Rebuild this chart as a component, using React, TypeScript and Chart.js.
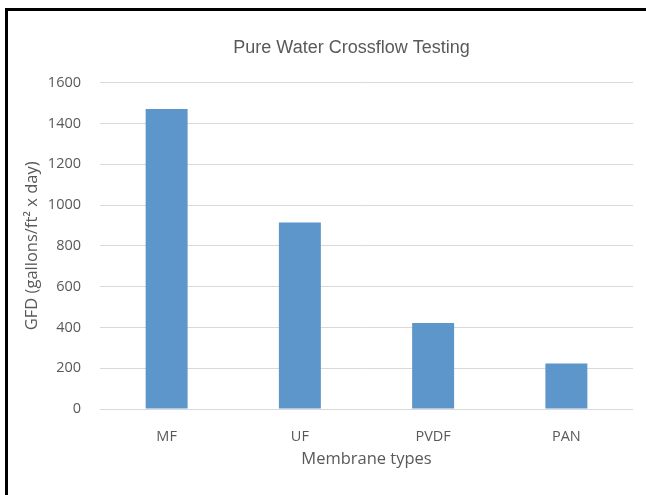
import React, { useEffect, useRef } from "react";
import { Chart, registerables } from "chart.js";

Chart.register(...registerables);

const categories = ["MF", "UF", "PVDF", "PAN"];
const gfdValues = [1470, 914, 421, 223];
const yMin = 0;
const yMax = 1600;
const yStep = 200;

const chartTitle = "Pure Water Crossflow Testing";
const xTitle = "Membrane types";
const yTitle = "GFD (gallons/ft\u00B2 x day)";

const W = 646;
const H = 495;
const textColor = "#595959";
const gridColor = "#d9d9d9";
const barColor = "#5d96cb";
const sansFont = "'Open Sans', 'Noto Sans', sans-serif";
const titleFont = "'Liberation Sans', Arial, sans-serif";

// Draws the chart title slightly left of the plot centre, as in the original
const offsetTitle = {
  id: "offsetTitle",
  afterDraw(chart: any) {
    const { ctx, chartArea } = chart;
    ctx.save();
    ctx.font = `normal 18px ${titleFont}`;
    ctx.fillStyle = textColor;
    ctx.textAlign = "center";
    ctx.textBaseline = "middle";
    const cx = (chartArea.left + chartArea.right) / 2 - 15;
    ctx.fillText(chartTitle, cx, chartArea.top - 35);
    ctx.restore();
  },
};

export default function App() {
  const ref = useRef<HTMLCanvasElement>(null);

  useEffect(() => {
    document.body.style.margin = "0";
    const canvas = ref.current!;
    const chart = new Chart(canvas, {
      type: "bar",
      data: {
        labels: categories,
        datasets: [
          {
            data: gfdValues,
            backgroundColor: barColor,
            borderWidth: 0,
            barPercentage: 0.315,
            categoryPercentage: 1,
          },
        ],
      },
      plugins: [offsetTitle],
      options: {
        responsive: false,
        animation: false,
        devicePixelRatio: 1,
        layout: { padding: { left: 8, right: 13, top: 0, bottom: 0 } },
        plugins: {
          legend: { display: false },
          tooltip: { enabled: false },
          title: {
            display: true,
            text: chartTitle,
            color: "rgba(0,0,0,0)",
            font: { family: titleFont, size: 18, weight: "normal" },
            padding: { top: 37, bottom: 24 },
          },
        },
        scales: {
          x: {
            grid: { display: false, drawTicks: false },
            border: { display: false },
            ticks: {
              color: textColor,
              font: { family: sansFont, size: 14.5 },
              padding: 19,
            },
            title: {
              display: true,
              text: xTitle,
              color: textColor,
              font: { family: sansFont, size: 16.5 },
              padding: { top: 0, bottom: 26 },
            },
            afterFit: (s: any) => {
              s.height = 86;
            },
          },
          y: {
            min: yMin,
            max: yMax,
            grid: { color: gridColor, lineWidth: 1, drawTicks: false },
            border: { display: false },
            ticks: {
              stepSize: yStep,
              color: textColor,
              font: { family: sansFont, size: 14.5 },
              padding: 19,
              callback: (v: any) => String(v),
            },
            title: {
              display: true,
              text: yTitle,
              color: textColor,
              font: { family: sansFont, size: 16.5 },
              padding: { top: 14, bottom: 0 },
            },
            afterFit: (s: any) => {
              s.width = 92;
            },
          },
        },
      },
    });
    return () => chart.destroy();
  }, []);

  return (
    <div style={{ position: "fixed", left: 0, top: 0, width: W, height: H, background: "#fff", overflow: "hidden" }}>
      <canvas ref={ref} width={W} height={H} style={{ position: "absolute", left: 0, top: 0, width: W, height: H }} />
      <div style={{ position: "absolute", left: 5, top: 8, width: W - 5, height: 3, background: "#000" }} />
      <div style={{ position: "absolute", left: 5, top: 8, width: 3, height: H - 8, background: "#000" }} />
    </div>
  );
}
